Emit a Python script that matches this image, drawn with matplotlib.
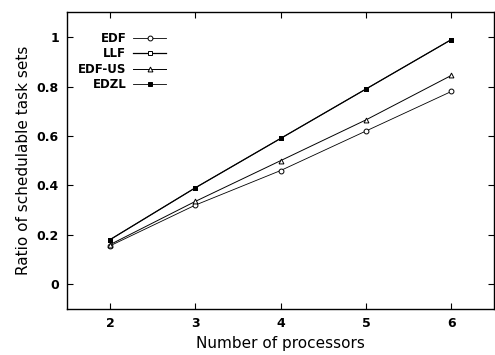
import matplotlib.pyplot as plt

procs = [2, 3, 4, 5, 6]
edf = [0.155, 0.32, 0.46, 0.62, 0.78]
llf = [0.18, 0.39, 0.59, 0.79, 0.99]
edf_us = [0.16, 0.335, 0.50, 0.665, 0.845]
edzl = [0.18, 0.39, 0.59, 0.79, 0.99]

fig = plt.figure(figsize=(4.95, 3.55), dpi=100)
ax = fig.add_axes([0.136, 0.13, 0.862, 0.835])

ax.plot(procs, edf, color='k', lw=0.6, marker='o', ms=3.5, mfc='white', mew=0.7, label='EDF')
ax.plot(procs, llf, color='k', lw=0.9, marker='s', ms=3.5, mfc='white', mew=0.7, label='LLF')
ax.plot(procs, edf_us, color='k', lw=0.7, marker='^', ms=3.5, mfc='white', mew=0.7, label='EDF-US')
ax.plot(procs, edzl, color='k', lw=0.6, marker='s', ms=3.5, mfc='k', mew=0.7, label='EDZL')

ax.set_xlim(1.5, 6.5)
ax.set_ylim(-0.1, 1.1)
ax.set_xticks(procs)
ax.set_yticks([0, 0.2, 0.4, 0.6, 0.8, 1])
ax.set_yticklabels(['0', '0.2', '0.4', '0.6', '0.8', '1'])
for lab in ax.get_xticklabels() + ax.get_yticklabels():
    lab.set_fontweight('bold')
    lab.set_fontsize(9)
ax.tick_params(direction='in', length=4, width=0.8, top=True, right=True, pad=6)
for s in ax.spines.values():
    s.set_linewidth(1.0)

ax.set_xlabel('Number of processors', fontsize=11)
ax.set_ylabel('Ratio of schedulable task sets', fontsize=11)

leg = ax.legend(loc='upper left', bbox_to_anchor=(0.0, 0.97), frameon=False, markerfirst=False,
                prop={'weight': 'bold', 'size': 8.5}, handlelength=2.8, labelspacing=0.2,
                handletextpad=0.6)
for t in leg.get_texts():
    t.set_ha('right')
leg._legend_box.align = 'right'

fig.savefig('out.png', dpi=100)
